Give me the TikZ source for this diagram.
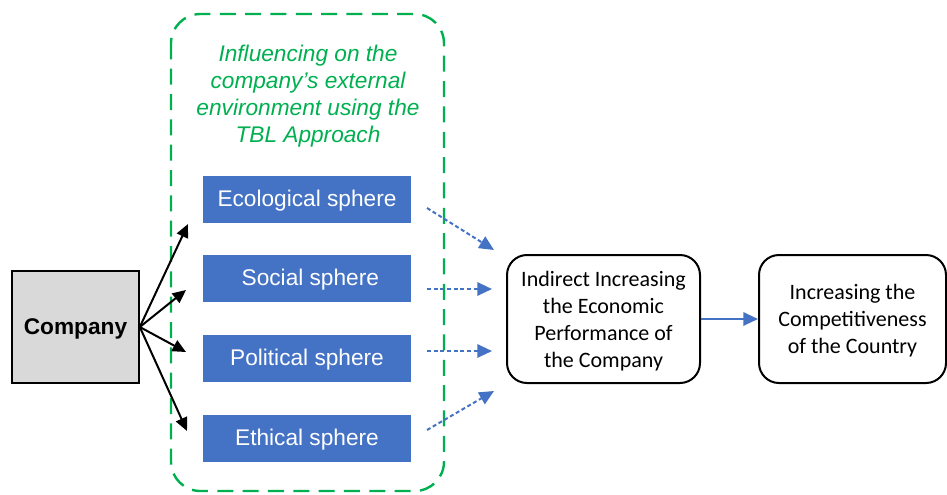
\documentclass[tikz,border=0pt]{standalone}
\usepackage{fontspec}
\setmainfont{Liberation Sans}
\newfontfamily\calibri{Carlito}
\usetikzlibrary{arrows.meta}

\definecolor{tblgreen}{RGB}{0,176,80}
\definecolor{sphereblue}{RGB}{68,114,196}
\definecolor{compgray}{RGB}{217,217,217}

% lines of a result box, set a little low
\newcommand{\boxlines}[1]{\raisebox{-6pt}[0pt][0pt]{\begin{tabular}{@{}c@{}}#1\end{tabular}}}

\begin{document}
\begin{tikzpicture}[x=0.75pt,y=0.75pt,yscale=-1,xscale=1,
  sphere/.style={fill=sphereblue,text=white,minimum width=156pt,minimum height=35.25pt,
    inner sep=0pt,text height=14.5pt,text depth=3.6pt,font=\fontsize{17}{20}\selectfont},
  resultbox/.style={draw,line width=1.5pt,rounded corners=15pt,minimum height=96pt,
    inner sep=0pt,font=\calibri\fontsize{16.5}{20.25}\selectfont},
  pusharrow/.style={-{Triangle[length=10pt,width=9pt]},line width=1.5pt},
  effectarrow/.style={-{Triangle[length=11pt,width=10pt]},line width=1.5pt,
    color=sphereblue,dash pattern=on 3pt off 2pt}]
\useasboundingbox (0,0) rectangle (947,494);

%Shape: dashed frame round the four spheres
\draw [color=tblgreen,line width=1.8pt,dash pattern=on 12pt off 7pt,rounded corners=22pt]
  (171,14) rectangle (444,491) ;
% Text Node
\node (tbl) [text=tblgreen,align=center,font=\itshape\fontsize{17}{20.25}\selectfont]
  at (308,96.5) {Influencing on the\\company’s external\\environment using the\\TBL Approach};

%Shape: company
\node (company) [draw,fill=compgray,line width=1.2pt,minimum width=95.25pt,minimum height=84pt,
  text height=15.2pt,text depth=3.6pt,font=\bfseries\fontsize{17}{20}\selectfont]
  at (75.5,327) {Company};

%Shapes: spheres
\node (eco) [sphere] at (307,199) {Ecological sphere};
\node (soc) [sphere] at (307,278.5) {\hspace{5pt}Social sphere};
\node (pol) [sphere] at (307,358.5) {Political sphere};
\node (eth) [sphere] at (307,438.5) {Ethical sphere};

%Shapes: results
\node (perf) [resultbox,minimum width=144.75pt] at (603.5,319)
  {\boxlines{Indirect Increasing\\the Economic\\Performance of\\the Company}};
\node (country) [resultbox,minimum width=140.25pt] at (852.5,319)
  {\boxlines{Increasing the\\Competitiveness\\of the Country}};

% arrow ends
\coordinate (c1) at (188,224);
\coordinate (c2) at (186,290);
\coordinate (c3) at (186,352);
\coordinate (c4) at (187,431);
\coordinate (e1) at (427,208);
\coordinate (e2) at (427,289);
\coordinate (e3) at (427,351);
\coordinate (e4) at (427,430);
\coordinate (p1) at (494,250);
\coordinate (p2) at (492,289);
\coordinate (p3) at (492,351);
\coordinate (p4) at (494,391);

%Straight Lines: company to spheres
\foreach \t in {c1,c2,c3,c4}
  \draw [pusharrow] (company.east) -- (\t) ;

%Straight Lines: spheres to performance
\draw [effectarrow] (e1) -- (p1) ;
\draw [effectarrow] (e2) -- (p2) ;
\draw [effectarrow] (e3) -- (p3) ;
\draw [effectarrow] (e4) -- (p4) ;

%Straight Lines: performance to country
\draw [-{Triangle[length=11pt,width=10pt]},line width=1.5pt,color=sphereblue]
  (perf.east) -- (country.west) ;
\end{tikzpicture}
\end{document}
